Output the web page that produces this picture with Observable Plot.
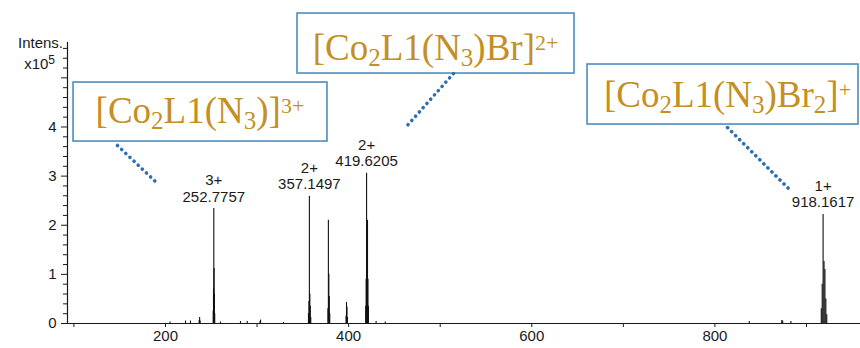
<!DOCTYPE html>
<html><head><meta charset="utf-8">
<script src="https://cdn.jsdelivr.net/npm/d3@7"></script>
<script src="https://cdn.jsdelivr.net/npm/@observablehq/plot@0.6"></script>
<style>
html,body{margin:0;padding:0;background:#fff;}
#chart{width:860px;height:348px;overflow:hidden;}
</style></head><body><div id="chart"></div>
<script>
// ---- data (m/z, intensity in units of 1e5) ----
const peakMz  = [205.0, 221.9, 227.3, 236.8, 237.3, 237.8,
  252.11, 252.44, 252.78, 253.11, 253.44, 253.78,
  260.0, 281.9, 289.3, 303.3, 303.8, 328.9,
  356.15, 356.65, 357.15, 357.65, 358.15, 358.65,
  377.4, 377.9, 378.4, 378.9, 379.4,
  397.2, 397.7, 398.2, 398.7,
  418.62, 419.12, 419.62, 420.12, 420.62, 421.12, 421.62,
  430.0, 440.0, 837.5, 873.0, 874.0, 883.0,
  916.16, 917.16, 918.16, 919.16, 920.16, 921.16, 922.16];
const peakInt = [0.03, 0.05, 0.05, 0.06, 0.12, 0.05,
  0.25, 0.7, 2.34, 1.12, 0.6, 0.2,
  0.03, 0.04, 0.04, 0.04, 0.07, 0.02,
  0.2, 0.45, 2.59, 0.6, 0.35, 0.12,
  0.3, 2.10, 1.0, 0.55, 0.2,
  0.15, 0.43, 0.33, 0.12,
  0.35, 0.9, 3.06, 2.0, 2.1, 0.9, 0.35,
  0.04, 0.03, 0.04, 0.06, 0.05, 0.04,
  0.3, 0.8, 2.22, 1.26, 1.10, 0.5, 0.18];
const labelMz     = [252.7757, 357.1497, 419.6205, 918.1617];
const labelInt    = [2.34, 2.59, 3.06, 2.22];
const labelCharge = ["3+", "2+", "2+", "1+"];
const xTicks  = [100, 200, 300, 400, 500, 600, 700, 800, 900];
const xLabels = [200, 400, 600, 800];
const yMajor  = [0, 1, 2, 3, 4, 5];
const yLabels = [0, 1, 2, 3, 4];
const yMinor  = [0.2,0.4,0.6,0.8,1.2,1.4,1.6,1.8,2.2,2.4,2.6,2.8,3.2,3.4,3.6,3.8,4.2,4.4,4.6,4.8,5.2,5.4,5.6];
// ion formulas: [text, kind]
const ionNames = [
  [["[Co",""],["2","sub"],["L1(N",""],["3","sub"],[")]",""],["3+","sup"]],
  [["[Co",""],["2","sub"],["L1(N",""],["3","sub"],[")Br]",""],["2+","sup"]],
  [["[Co",""],["2","sub"],["L1(N",""],["3","sub"],[")Br",""],["2","sub"],["]",""],["+","sup"]]
];
// annotation layout, in data coordinates (m/z, intensity)
const annBox  = [[99.6, 376.9, 3.704, 4.905], [344.2, 646.7, 5.088, 6.31], [660.9, 956.8, 4.05, 5.272]];
const annText = [[238.2, 4.071], [495.5, 5.353], [814.3, 4.396]];
const annLine = [[147.6, 3.623, 191.3, 2.850], [514.5, 5.088, 462.1, 3.989], [813.8, 3.989, 880.4, 2.748]];

const xDomain = [93, 959], yDomain = [0, 5.72];
const W = 860, H = 348, mL = 67, mR = 0, mT = 42, mB = 25;
const sx = d3.scaleLinear(xDomain, [mL, W - mR]);
const sy = d3.scaleLinear(yDomain, [H - mB, mT]);

const pk = d3.range(peakMz.length);
const lb = d3.range(labelMz.length);
const an = d3.range(annBox.length);
const fontSans = "'Liberation Sans', Arial, Helvetica, sans-serif";

const chart = Plot.plot({
  width: W, height: H, marginLeft: mL, marginRight: mR, marginTop: mT, marginBottom: mB,
  x: {domain: xDomain}, y: {domain: yDomain},
  style: {fontFamily: fontSans, fontSize: "15px", color: "#1a1a1a", background: "white", overflow: "visible"},
  marks: [
    Plot.axisX({ticks: xTicks, tickSize: 4, tickPadding: 3, tickFormat: d => xLabels.includes(d) ? String(d) : "", label: null, fontSize: 15}),
    Plot.axisY({ticks: yMinor, tickSize: 4, tickFormat: () => "", label: null}),
    Plot.axisY({ticks: yMajor, tickSize: 6, tickPadding: 5, tickFormat: d => yLabels.includes(d) ? String(d) : "", label: null, fontSize: 15}),
    Plot.ruleX([xDomain[0]], {stroke: "#1a1a1a", strokeWidth: 1.2}),
    Plot.ruleY([0], {stroke: "#1a1a1a", strokeWidth: 1.2}),
    Plot.ruleX(pk, {x: i => peakMz[i], y1: 0, y2: i => peakInt[i], stroke: "#111", strokeWidth: 1.1}),
    Plot.text(lb, {x: i => labelMz[i], y: i => labelInt[i],
      text: i => `${labelCharge[i]}\n${labelMz[i].toFixed(4)}`,
      lineAnchor: "bottom", dy: -7, fontSize: 15, lineHeight: 1.1, fill: "#1a1a1a"}),
    Plot.rect(an, {x1: i => annBox[i][0], x2: i => annBox[i][1], y1: i => annBox[i][2], y2: i => annBox[i][3],
      fill: "white", stroke: "#4a8dc2", strokeWidth: 1.6}),
    Plot.link(an, {x1: i => annLine[i][0], y1: i => annLine[i][1], x2: i => annLine[i][2], y2: i => annLine[i][3],
      stroke: "#2f6fb0", strokeWidth: 3.6, strokeDasharray: "0.1 5.6", strokeLinecap: "round"})
  ]
});
document.getElementById("chart").appendChild(chart);

const svg = d3.select(chart);
// axis title
svg.append("text").attr("x", mL - 4).attr("y", sy(5.7)).attr("dy", "0.35em")
  .attr("text-anchor", "end").attr("font-family", fontSans).attr("font-size", 15).attr("fill", "#1a1a1a")
  .text("Intens.");
const t2 = svg.append("text").attr("x", mL - 12).attr("y", sy(5.28)).attr("dy", "0.35em")
  .attr("text-anchor", "end").attr("font-family", fontSans).attr("font-size", 15).attr("fill", "#1a1a1a");
t2.append("tspan").text("x10");
t2.append("tspan").attr("dy", "-0.38em").attr("font-size", 12).text("5");

// ion formula annotations
an.forEach(i => {
  const t = svg.append("text").attr("x", sx(annText[i][0])).attr("y", sy(annText[i][1]))
    .attr("text-anchor", "middle").attr("font-family", "'Liberation Serif', 'DejaVu Serif', serif")
    .attr("font-size", 37).attr("fill", "#c48f24");
  ionNames[i].forEach(([s, k]) => {
    const ts = t.append("tspan").text(s);
    if (k === "sub") ts.attr("font-size", 25).attr("baseline-shift", "-6");
    if (k === "sup") ts.attr("font-size", 22).attr("baseline-shift", "10");
  });
});
</script>
</body></html>
